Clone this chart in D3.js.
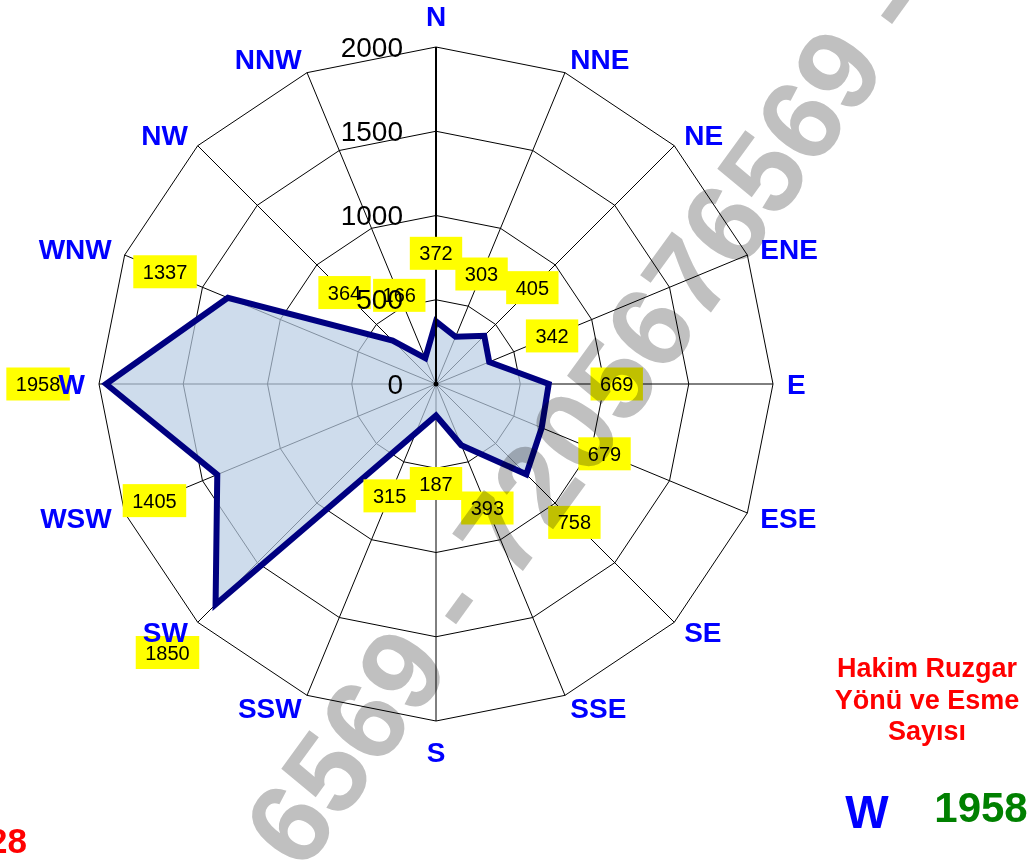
<!DOCTYPE html>
<html>
<head>
<meta charset="utf-8">
<script src="https://cdnjs.cloudflare.com/ajax/libs/d3/7.8.5/d3.min.js"></script>
<style>
  body { margin: 0; background: #fff; }
  svg { display: block; font-family: Arial, "Liberation Sans", sans-serif; }
</style>
</head>
<body>
<div id="chart"></div>
<script>
// wind rose data
var directions = ["N", "NNE", "NE", "ENE", "E", "ESE", "SE", "SSE",
                  "S", "SSW", "SW", "WSW", "W", "WNW", "NW", "NNW"];
var counts = [372, 303, 405, 342, 669, 679, 758, 393,
              187, 315, 1850, 1405, 1958, 1337, 364, 166];
var ringTicks = [0, 500, 1000, 1500, 2000];
var titleLines = ["Hakim Ruzgar", "Yönü ve Esme", "Sayısı"];
var watermarkText = "6569 - 7205676569 - 72";
var pageNote = "28";

var width = 1035, height = 863;
var cx = 436, cy = 384;
var outerR = 337;

var svg = d3.select("#chart").append("svg")
    .attr("width", width)
    .attr("height", height);

var rScale = d3.scaleLinear().domain([0, 2000]).range([0, outerR]);
var aScale = d3.scaleLinear().domain([0, directions.length]).range([0, 2 * Math.PI]);

var g = svg.append("g").attr("transform", "translate(" + cx + "," + cy + ")");

function px(i, r) { return r * Math.sin(aScale(i)); }
function py(i, r) { return -r * Math.cos(aScale(i)); }

var ringLine = d3.lineRadial()
    .angle(function(d, i) { return aScale(i); })
    .radius(function(d) { return d; })
    .curve(d3.curveLinearClosed);

// spokes
g.selectAll(".spoke").data(directions).enter()
    .append("line")
    .attr("class", "spoke")
    .attr("x1", 0).attr("y1", 0)
    .attr("x2", function(d, i) { return px(i, outerR); })
    .attr("y2", function(d, i) { return py(i, outerR); })
    .attr("stroke", "#000")
    .attr("stroke-width", 1);

// rings
g.selectAll(".ring").data(ringTicks.filter(function(t) { return t > 0; })).enter()
    .append("path")
    .attr("class", "ring")
    .attr("d", function(t) {
        return ringLine(directions.map(function() { return rScale(t); }));
    })
    .attr("fill", "none")
    .attr("stroke", "#000")
    .attr("stroke-width", 1);

// data area
var areaLine = d3.lineRadial()
    .angle(function(d, i) { return aScale(i); })
    .radius(function(d) { return rScale(d); })
    .curve(d3.curveLinearClosed);

g.append("path")
    .attr("d", areaLine(counts))
    .attr("fill", "#B9CDE4")
    .attr("fill-opacity", 0.7);

g.append("path")
    .attr("d", areaLine(counts))
    .attr("fill", "none")
    .attr("stroke", "#000080")
    .attr("stroke-width", 6)
    .attr("stroke-linejoin", "miter");

// value axis (N)
g.append("line")
    .attr("x1", 0).attr("y1", 0)
    .attr("x2", 0).attr("y2", -outerR)
    .attr("stroke", "#000")
    .attr("stroke-width", 2);
g.append("circle").attr("r", 2.5).attr("fill", "#000");

// data labels
var labelOffset = 68;
var lbl = g.selectAll(".dlabel").data(counts).enter()
    .append("g")
    .attr("class", "dlabel")
    .attr("transform", function(d, i) {
        var r = rScale(d) + labelOffset;
        return "translate(" + px(i, r) + "," + py(i, r) + ")";
    });
lbl.append("rect").attr("fill", "#FFFF00");
lbl.append("text")
    .attr("text-anchor", "middle")
    .attr("dominant-baseline", "central")
    .attr("font-size", 20)
    .attr("fill", "#000")
    .text(function(d) { return d; });
lbl.each(function() {
    var t = d3.select(this).select("text").node();
    var w = t.getComputedTextLength() + 19;
    d3.select(this).select("rect")
        .attr("x", -w / 2).attr("y", -16.5)
        .attr("width", w).attr("height", 33);
});

// ring value labels
g.selectAll(".rlabel").data(ringTicks).enter()
    .append("text")
    .attr("class", "rlabel")
    .attr("x", -33)
    .attr("y", function(t) { return -rScale(t); })
    .attr("text-anchor", "end")
    .attr("dominant-baseline", "central")
    .attr("font-size", 28)
    .attr("fill", "#000")
    .text(function(t) { return t; });

// direction labels
g.selectAll(".dir").data(directions).enter()
    .append("text")
    .attr("class", "dir")
    .attr("x", function(d, i) {
        var s = Math.sin(aScale(i));
        return px(i, outerR) + 14 * s;
    })
    .attr("y", function(d, i) {
        var c = Math.cos(aScale(i));
        var extra = Math.abs(Math.sin(aScale(i))) < 0.01 ? 17 * Math.sign(c) : 0;
        return py(i, outerR) - 14 * c - extra;
    })
    .attr("text-anchor", function(d, i) {
        var s = Math.sin(aScale(i));
        return s > 0.01 ? "start" : (s < -0.01 ? "end" : "middle");
    })
    .attr("dominant-baseline", "central")
    .attr("font-size", 28)
    .attr("font-weight", "bold")
    .attr("fill", "#0000FF")
    .text(function(d) { return d; });

// watermark
var wm = svg.append("g")
    .attr("transform", "translate(650,328) rotate(-54)")
    .style("mix-blend-mode", "multiply");
var wmText = wm.append("text")
    .attr("font-size", 115)
    .attr("font-weight", "bold")
    .attr("fill", "#C0C0C0")
    .attr("dominant-baseline", "central")
    .text(watermarkText);
var node = wmText.node();
var k = 11;
var off = node.getSubStringLength(0, k) + node.getSubStringLength(k, 1) / 2;
wmText.attr("x", -off);

// side panel
var maxIdx = d3.maxIndex(counts);
svg.selectAll(".title").data(titleLines).enter()
    .append("text")
    .attr("x", 927)
    .attr("y", function(d, i) { return 677 + i * 31.5; })
    .attr("text-anchor", "middle")
    .attr("font-size", 27)
    .attr("font-weight", "bold")
    .attr("fill", "#FF0000")
    .text(function(d) { return d; });

svg.append("text")
    .attr("x", 867).attr("y", 828)
    .attr("text-anchor", "middle")
    .attr("font-size", 46)
    .attr("font-weight", "bold")
    .attr("fill", "#0000FF")
    .text(directions[maxIdx]);

svg.append("text")
    .attr("x", 981).attr("y", 822)
    .attr("text-anchor", "middle")
    .attr("font-size", 42)
    .attr("font-weight", "bold")
    .attr("fill", "#008000")
    .text(counts[maxIdx]);

svg.append("text")
    .attr("x", 27).attr("y", 853)
    .attr("text-anchor", "end")
    .attr("font-size", 35)
    .attr("font-weight", "bold")
    .attr("fill", "#FF0000")
    .text(pageNote);
</script>
</body>
</html>
